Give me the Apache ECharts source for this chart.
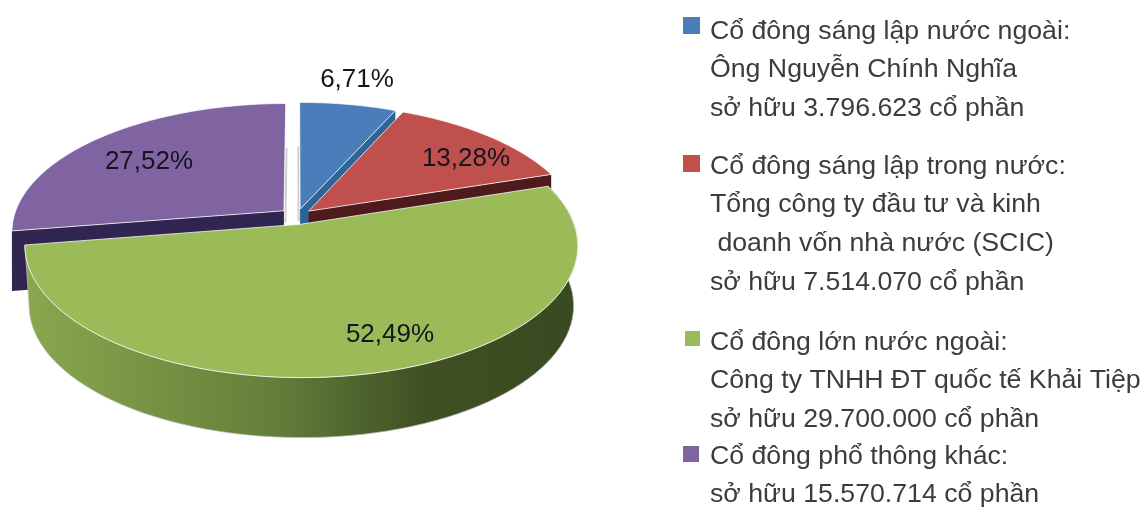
<!DOCTYPE html>
<html>
<head>
<meta charset="utf-8">
<title>Cơ cấu cổ đông</title>
<script src="https://cdn.jsdelivr.net/npm/echarts@6/dist/echarts.min.js"></script>
<style>
  html, body { margin: 0; padding: 0; background: #fff; }
  #chart { width: 1146px; height: 509px; }
</style>
</head>
<body>
<div id="chart"></div>
<script>
// chart values
const names = ['Cổ đông sáng lập nước ngoài', 'Cổ đông sáng lập trong nước', 'Cổ đông lớn nước ngoài', 'Cổ đông phổ thông khác']
const shares = [6.71, 13.28, 52.49, 27.52]
const legendTexts = [
  'Cổ đông sáng lập nước ngoài:\nÔng Nguyễn Chính Nghĩa\nsở hữu 3.796.623 cổ phần',
  'Cổ đông sáng lập trong nước:\nTổng công ty đầu tư và kinh\n doanh vốn nhà nước (SCIC)\nsở hữu 7.514.070 cổ phần',
  'Cổ đông lớn nước ngoài:\nCông ty TNHH ĐT quốc tế Khải Tiệp\nsở hữu 29.700.000 cổ phần',
  'Cổ đông phổ thông khác:\nsở hữu 15.570.714 cổ phần'
]

// styles
const topColors = ['#4a7ebb', '#c0504d', '#9bbb59', '#8064a2']
const wallColors = ['#2f6496', '#4f1a1c', '#5f7b37', '#2f2550']
const explode = [0.055, 0.058, 0.066, 0.064]
const drawOrder = [1, 2, 4, 3]
const labelPos = [[357, 80], [466, 159], [390, 335], [149, 162]]
const legendTop = [12, 147, 323, 437]
const markerLeft = [683, 683, 685, 683]
const markerTop = [17, 155, 331, 446]
const markerSize = [17, 17, 15, 16]

// fake 3d pie: disc seen from above, front is bigger
const cx = 297, cy = 216, rx = 270, ry = 126, persp = 0.16, depth = 60

function project(u, v) {
  const w = 1 / (1 + persp * v)
  return [cx + rx * u * w, cy - ry * v * w]
}

function rad(pct) {
  return pct / 100 * Math.PI * 2
}

function renderSlice(params, api) {
  const i = params.dataIndex
  const value = api.value(0)
  let sum = 0
  for (let k = 0; k < i; k++) sum += shares[k]
  const a0 = rad(sum), a1 = rad(sum + value), mid = (a0 + a1) / 2
  const ou = explode[i] * Math.sin(mid), ov = explode[i] * Math.cos(mid)

  const apex = project(ou, ov)
  const arc = []
  for (let s = 0; s <= 80; s++) {
    const a = a0 + (a1 - a0) * s / 80
    arc.push(project(ou + Math.sin(a), ov + Math.cos(a)))
  }
  const down = p => [p[0], p[1] + depth]
  const first = arc[0], last = arc[arc.length - 1]
  const children = []

  if (i === 2) {
    // green slice is the only one with a big outer side
    const low = arc.map(p => [apex[0] + (p[0] - apex[0]) * 0.985, p[1] + depth])
    children.push({
      type: 'polygon',
      z2: drawOrder[i] * 10,
      shape: { points: arc.concat(low.reverse()) },
      style: {
        fill: {
          type: 'linear', x: 0, y: 0, x2: 1, y2: 0,
          colorStops: [
            { offset: 0, color: '#8aa84e' },
            { offset: 0.45, color: '#637f3a' },
            { offset: 0.72, color: '#3f5024' },
            { offset: 1, color: '#3a4a20' }
          ]
        },
        stroke: 'rgba(190,190,190,0.7)',
        lineWidth: 1
      }
    })
  } else {
    // inner wall that shows in the gap
    const wallEnd = i === 3 ? first : last
    children.push({
      type: 'polygon',
      z2: drawOrder[i] * 10,
      shape: { points: [apex, wallEnd, down(wallEnd), down(apex)] },
      style: { fill: wallColors[i] }
    })
  }

  // grey sliver of the two walls facing each other across the top gap
  if (i === 0 || i === 3) {
    const edge = i === 0 ? a0 : a1
    const side = i === 0 ? -1 : 1
    const upper = project(ou + 0.55 * Math.sin(edge), ov + 0.55 * Math.cos(edge))
    children.push({
      type: 'line',
      z2: 5,
      shape: { x1: apex[0] + side * 1.5, y1: apex[1] + 12, x2: upper[0] + side * 1.5, y2: upper[1] },
      style: { stroke: '#cfcfcf', lineWidth: 2 }
    })
  }

  children.push({
    type: 'polygon',
    z2: drawOrder[i] * 10 + 1,
    shape: { points: [apex].concat(arc) },
    style: { fill: topColors[i], stroke: 'rgba(255,255,255,0.75)', lineWidth: 1, lineJoin: 'round' }
  })

  children.push({
    type: 'text',
    z2: 100,
    x: labelPos[i][0],
    y: labelPos[i][1],
    style: {
      text: value.toFixed(2).replace('.', ',') + '%',
      fill: '#15151f',
      font: '26px "Liberation Sans", Arial, sans-serif',
      align: 'center',
      verticalAlign: 'middle'
    }
  })

  return { type: 'group', children: children }
}

const legendGraphics = []
legendTexts.forEach((t, i) => {
  legendGraphics.push({
    type: 'rect',
    left: markerLeft[i],
    top: markerTop[i],
    shape: { width: markerSize[i], height: markerSize[i] },
    style: { fill: topColors[i] }
  })
  legendGraphics.push({
    type: 'text',
    left: 710,
    top: legendTop[i],
    style: {
      text: t,
      fill: '#3c3c3c',
      font: '26.7px "Liberation Sans", Arial, sans-serif',
      lineHeight: 38.7
    }
  })
})

const chart = echarts.init(document.getElementById('chart'), null, { renderer: 'canvas' })
chart.setOption({
  animation: false,
  backgroundColor: '#fff',
  graphic: legendGraphics,
  series: [
    {
      type: 'custom',
      coordinateSystem: 'none',
      renderItem: renderSlice,
      data: shares.map((v, i) => ({ name: names[i], value: [v] }))
    }
  ]
})
</script>
</body>
</html>
